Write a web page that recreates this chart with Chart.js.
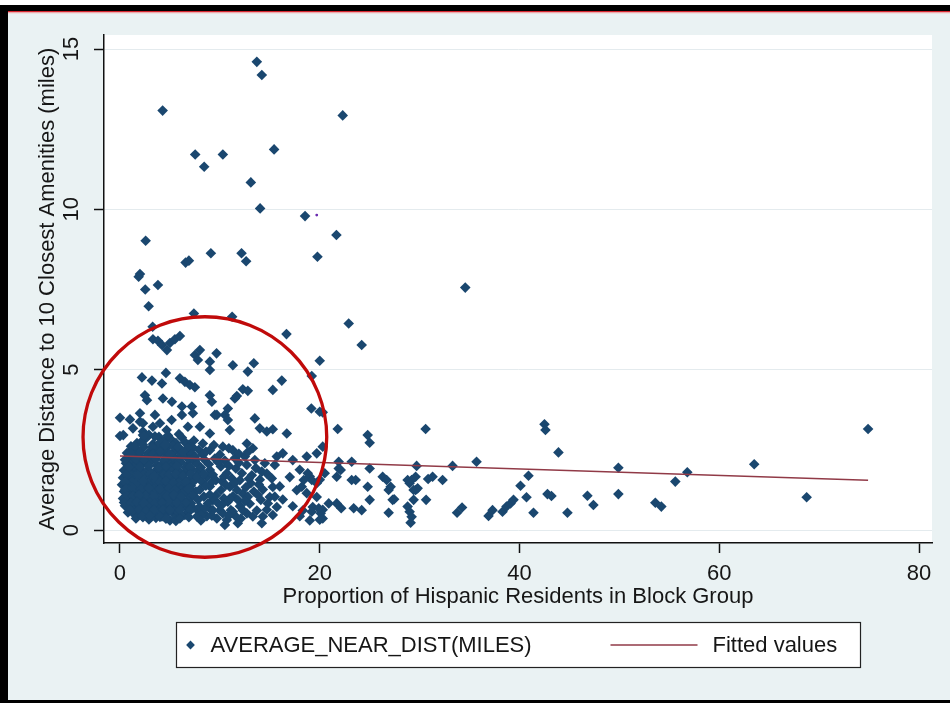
<!DOCTYPE html>
<html>
<head>
<meta charset="utf-8">
<script src="https://cdn.jsdelivr.net/npm/chart.js@4.4.1/dist/chart.umd.min.js"></script>
<style>
  html, body { margin: 0; padding: 0; background: #ffffff; }
  #wrap { position: relative; width: 950px; height: 705px; }
</style>
</head>
<body>
<div id="wrap"><canvas id="c" width="950" height="705"></canvas></div>
<script>
// Axis ticks and titles
const xTickValues = [0, 20, 40, 60, 80];
const xTickLabels = ['0', '20', '40', '60', '80'];
const yTickValues = [0, 5, 10, 15];
const yTickLabels = ['0', '5', '10', '15'];
const xTitle = 'Proportion of Hispanic Residents in Block Group';
const yTitle = 'Average Distance to 10 Closest Amenities (miles)';
const scatterLabel = 'AVERAGE_NEAR_DIST(MILES)';
const fitLabel = 'Fitted values';

// Block groups: [hispanic share, average distance in miles]
const highDistance = [
  [13.7,14.6],[14.2,14.19],[4.27,13.08],[22.3,12.93],[7.53,11.71],[10.3,11.71],[8.43,11.33],
  [15.43,11.87],[13.1,10.84],[14.03,10.03],[18.53,9.79],[21.67,9.2],[2.57,9.02],[9.1,8.63],
  [12.17,8.63],[12.63,8.38],[6.57,8.34],[6.9,8.4],[19.77,8.52],[2.0,7.98],[1.87,7.9],[3.8,7.64],
  [2.53,7.5],[34.57,7.56],[2.87,6.98],[7.4,6.75],[11.23,6.65],[22.9,6.44],[3.27,6.34],[16.67,6.11],
  [24.2,5.77]
];

const midDistance = [
  [3.3,5.95],[3.8,5.9],[4.2,5.77],[4.7,5.61],[5.0,5.83],[5.5,5.95],[6.0,6.05],
  [8.0,5.61],[7.5,5.46],[7.8,5.3],[9.0,5.25],[9.67,5.51],[9.0,4.99],[11.3,5.14],[12.8,4.94],
  [13.4,5.2],[20.0,5.28],[19.2,4.8],[2.2,4.76],[3.2,4.66],[4.2,4.57],[4.6,4.9],[6.0,4.73],
  [6.5,4.62],[7.0,4.52],[7.5,4.45],[16.2,4.66],[15.3,4.37],[12.3,4.39],[12.8,4.34],
  [2.5,4.2],[2.7,4.05],[4.3,4.1],[5.2,4.0],[6.2,3.85],[7.2,3.85],[9.0,4.2],[9.2,4.0],[9.5,3.59],
  [11.5,4.1],[11.7,4.18],[10.8,3.79],[10.5,3.59],[0.0,3.5],[1.0,3.45],[0.0,2.93],[1.3,3.17],
  [2.3,3.07],[3.3,3.22],[2.0,3.38],[13.5,3.48],[14.0,3.17],[14.7,3.07],[15.3,3.14],[16.7,3.01],
  [20.0,3.69],[19.16,3.79],[20.3,3.67],[21.8,3.15],
  [2.0,3.64],[2.3,3.33],[3.5,3.59],[4.0,3.33],[4.67,3.12],[5.17,3.43],[6.2,3.59],[7.3,3.64],
  [6.8,3.22],[8.0,3.22],[9.0,3.01],[9.7,3.59],[10.8,3.43],[11.0,3.12],[0.33,2.96],[2.3,2.96]
];

const denseCore = [
  [2.1,2.74],[2.6,2.86],[3.3,2.68],[3.9,2.91],[4.4,2.77],[5.1,2.83],[5.6,2.71],[6.2,2.88],[6.9,2.66],[7.4,2.79],
  [1.2,2.52],[1.8,2.47],[2.4,2.58],[3.0,2.44],[3.6,2.55],[4.2,2.49],[4.8,2.61],[5.4,2.43],[6.0,2.53],[6.7,2.46],[7.3,2.57],[7.9,2.5],
  [0.9,2.28],[1.5,2.34],[2.1,2.25],[2.7,2.31],[3.4,2.22],[3.9,2.36],[4.6,2.27],[5.2,2.3],[5.8,2.24],[6.4,2.33],[7.0,2.29],[7.6,2.21],[8.3,2.35],
  [0.6,2.08],[1.3,2.12],[1.9,2.04],[2.5,2.1],[3.1,2.15],[3.7,2.02],[4.3,2.09],[4.9,2.13],[5.5,2.06],[6.1,2.11],[6.8,2.03],[7.5,2.14],
  [0.4,1.86],[1.0,1.82],[1.6,1.9],[2.2,1.84],[2.8,1.88],[3.4,1.8],[4.0,1.87],[4.7,1.83],[5.3,1.91],[5.9,1.85],[6.5,1.79],[7.2,1.89],[7.8,1.84],
  [0.3,1.63],[0.9,1.58],[1.5,1.66],[2.0,1.6],[2.6,1.64],[3.2,1.57],[3.8,1.65],[4.4,1.61],[5.0,1.59],[5.7,1.67],[6.3,1.62],[6.9,1.56],[7.4,1.64],
  [0.2,1.41],[0.8,1.37],[1.4,1.44],[1.9,1.39],[2.5,1.42],[3.1,1.36],[3.7,1.43],[4.2,1.38],[4.8,1.45],[5.4,1.4],[6.0,1.35],[6.6,1.42],[7.1,1.38],
  [0.4,1.2],[1.0,1.15],[1.6,1.22],[2.2,1.17],[2.8,1.19],[3.3,1.14],[3.9,1.21],[4.5,1.16],[5.1,1.23],[5.8,1.18],[6.4,1.13],
  [0.3,0.98],[0.9,0.94],[1.5,1.0],[2.1,0.95],[2.7,0.97],[3.2,0.92],[3.8,0.99],[4.4,0.96],[5.0,0.93],[5.6,1.01],[6.2,0.95],[6.8,0.91],
  [0.5,0.76],[1.2,0.72],[1.8,0.78],[2.4,0.73],[3.0,0.75],[3.6,0.7],[4.1,0.77],[4.7,0.74],[5.3,0.71],[5.9,0.76],[6.6,0.73],[7.3,0.69],
  [0.8,0.55],[1.4,0.5],[2.0,0.53],[2.7,0.48],[3.3,0.54],[3.9,0.51],[4.6,0.49],[5.2,0.56],[5.8,0.5],[6.5,0.47],
  [1.6,0.36],[2.9,0.33],[3.6,0.38],[5.0,0.3],[5.5,0.37],
  [1.1,2.61],[1.7,2.71],[2.9,2.97],[3.5,2.92],[4.8,2.95],[5.9,2.99],[6.5,2.74],[0.7,2.4],[1.4,1.98],
  [2.3,1.72],[3.0,1.5],[3.5,1.3],[4.1,1.05],[4.9,0.85],[5.6,0.63],[6.2,0.84],[6.9,1.06],[7.0,1.3],
  [7.4,1.52],[6.6,1.95],[5.5,2.2],[4.6,2.4],[3.7,2.63],[2.8,2.38],[1.9,2.15],[1.0,1.73],[0.5,1.25],
  [0.6,0.86],[1.3,0.62],[2.3,0.4],[3.2,0.43],[4.2,0.42],[4.9,0.61],[5.6,0.28],[6.2,0.45],[6.9,0.57],
  [7.1,0.83],[2.6,1.08],[3.0,0.85],[3.6,1.52],[4.4,1.73],[5.1,1.95],[5.8,1.48],[6.4,1.18],[1.8,1.28],
  [1.2,1.51],[0.8,2.01],[2.4,2.93],[4.0,2.72],[5.3,2.62],[6.1,2.38],[7.1,2.41],[7.7,2.07],[7.9,1.76],
  [7.6,1.2],[7.7,0.63],
  [1.5,2.63],[2.3,2.66],[3.2,2.59],[4.5,2.64],[5.8,2.6],[6.8,2.57],
  [1.1,2.39],[2.0,2.42],[3.3,2.37],[4.0,2.45],[5.0,2.38],[6.3,2.44],[7.2,2.36],
  [0.5,2.19],[1.6,2.2],[2.4,2.17],[3.6,2.21],[4.4,2.18],[5.9,2.16],[6.9,2.19],
  [0.9,1.96],[2.0,1.97],[2.9,2.0],[3.9,1.95],[4.6,1.98],[5.7,2.0],[7.0,1.97],
  [0.6,1.73],[1.8,1.71],[3.0,1.74],[3.4,1.69],[4.9,1.72],[5.6,1.75],[6.3,1.7],[7.1,1.74],
  [0.5,1.5],[1.7,1.49],[2.3,1.52],[4.0,1.5],[4.6,1.53],[5.3,1.48],[6.6,1.51],
  [0.6,1.28],[1.3,1.3],[2.1,1.27],[2.9,1.31],[4.0,1.28],[4.9,1.3],[5.5,1.26],[6.8,1.27],
  [0.7,1.07],[1.3,1.06],[1.9,1.09],[3.4,1.05],[4.7,1.07],[5.4,1.09],[6.1,1.04],[7.3,1.08],
  [0.4,0.86],[1.1,0.84],[1.7,0.87],[2.4,0.85],[3.5,0.83],[4.2,0.86],[5.7,0.85],[6.6,0.86],
  [1.0,0.63],[1.9,0.64],[2.6,0.61],[3.4,0.62],[4.3,0.64],[5.0,0.62],[6.0,0.63],[7.0,0.62],
  [2.2,0.44],[3.0,0.45],[4.0,0.41],[4.6,0.35],[6.0,0.36],[6.9,0.4]
];

const coreShoulder = [
  [8.3,2.7],[9.0,2.49],[10.3,2.6],[11.3,2.49],[12.7,2.7],[13.3,2.55],[16.3,2.39],[17.3,2.18],
  [15.7,2.29],[18.7,2.29],[19.7,2.39],[20.3,2.6],
  [8.1,1.95],[9.0,1.87],[10.1,1.98],[8.7,1.66],[9.6,1.55],[10.7,1.77],[11.6,1.92],[12.7,2.03],
  [13.6,1.93],[14.7,1.76],[14.0,1.57],[13.1,1.46],[12.0,1.55],[11.0,1.35],[10.1,1.24],[9.0,1.36],
  [8.0,1.26],[8.4,1.04],[9.3,0.93],[10.4,0.99],[11.3,1.05],[12.3,1.13],[13.4,1.2],[14.3,1.26],
  [15.3,1.34],[15.0,1.03],[14.1,0.94],[13.0,0.82],[12.0,0.74],[11.1,0.62],[10.0,0.61],[9.1,0.63],
  [8.0,0.72],[7.7,0.42],[8.7,0.43],[9.7,0.36],[10.7,0.31],[11.6,0.42],[12.7,0.52],[13.7,0.61],
  [14.7,0.63],[15.7,0.72],[16.3,0.95],[16.0,1.36],[17.0,1.65],[18.0,1.88],[19.0,1.67],[20.0,1.57],
  [17.7,1.24],[18.7,1.15],[19.7,1.03],[17.3,0.74],[18.3,0.61],[19.3,0.72],[20.3,0.63],[18.0,0.43],
  [19.0,0.3],[20.0,0.32],
  [7.5,2.29],[8.5,2.18],[9.5,2.23],[10.5,2.17],[11.5,2.24],[12.5,2.29],[13.5,2.18],[14.5,2.08],
  [15.5,2.03],[7.7,1.66],[8.2,1.51],[9.2,1.5],[10.2,1.52],[11.2,1.61],[12.2,1.77],[13.2,1.71],
  [14.2,1.82],[15.2,1.61],[7.8,0.94],[8.8,0.83],[9.8,0.84],[10.8,0.88],[11.8,0.94],[12.8,1.04],
  [13.8,1.09],[14.8,0.83],[15.5,1.04],[8.3,0.52],[9.3,0.62],[10.3,0.52],[11.3,0.57],[12.3,0.62],
  [13.3,0.42],[14.3,0.42],[15.3,0.47],[14.2,0.21],[10.5,0.16],[11.8,0.21],
  [8.6,2.45],[9.4,2.65],[10.0,2.35],[10.9,2.55],[11.9,2.38],[8.9,2.05],[9.8,2.12],[10.9,2.0],
  [11.9,2.1],[12.8,2.43],[8.4,1.75],[9.3,1.72],[10.4,1.66],[11.5,1.47],[12.6,1.33],[8.6,1.38],
  [9.6,1.08],[10.6,1.4],[11.7,1.25],[12.9,1.6],[8.5,0.68],[9.0,1.1],[10.2,0.78],[11.0,0.98],
  [12.5,0.9],[8.1,0.3],[9.2,0.45],[10.9,0.45],[12.1,0.36],[13.9,1.42]
];

const longTail = [
  [24.8,2.96],[25.0,2.72],[30.6,3.15],[42.5,3.3],[42.6,3.12],[43.9,2.42],[74.9,3.15],
  [21.9,2.13],[23.2,2.13],[21.9,1.92],[22.1,1.87],[25.0,1.92],[29.7,2.0],[33.3,2.0],[35.7,2.13],
  [49.9,1.94],[56.8,1.8],[63.5,2.05],[40.9,1.69],[40.1,1.38],[40.7,1.02],[42.8,1.12],[43.2,1.06],
  [46.8,1.07],[47.4,0.78],[49.9,1.12],[55.6,1.51],[53.6,0.85],[54.2,0.73],[68.75,1.02],[41.4,0.54],
  [44.8,0.54],[33.75,0.54],[34.25,0.7],[36.9,0.44],[37.3,0.62],[38.3,0.57],[38.7,0.73],[39.1,0.83],
  [39.4,0.94],[30.65,0.94],[29.6,1.25],[29.2,1.56],[29.6,1.66],[29.8,1.3],[29.4,0.94],[28.8,0.73],
  [29.0,0.57],[29.2,0.41],[29.1,0.23],[30.85,1.59],[31.3,1.66],[32.3,1.56],[26.9,0.54],[27.3,0.94],
  [26.9,1.25],[27.1,1.35],[26.3,1.66],[26.7,1.56],[24.8,1.35],[25.0,0.94],[23.6,1.56],[23.2,1.56],
  [24.2,0.62],[23.4,0.68],[22.15,0.68],[21.7,0.83],[20.9,0.83],[20.1,0.52],[19.9,0.68],[19.2,0.57],
  [20.3,0.36],[21.7,1.66],[20.5,1.77],[19.2,1.56],[18.8,1.77],[18.4,1.56],[18.2,1.35],[19.7,1.46],
  [28.8,1.56],[29.0,1.46],[29.4,1.25],[27.45,0.96]
];

// Stray single-pixel mark
const strayMark = [[19.7, 9.82]];

// Linear fit endpoints (min and max share)
const fitX = [0, 74.9];
const fitY = [2.31, 1.55];

// Hand-drawn highlight ring, in data units: centre and radii
const ringCenter = [8.5, 2.9];
const ringRadius = [12.2, 3.75];

const FONT = "'Liberation Sans', Arial, sans-serif";
const TEXT = '#161616';
const toXY = p => ({ x: p[0], y: p[1] });
const blockGroups = [].concat(highDistance, midDistance, denseCore, coreShoulder, longTail);

// Page frame, grey graph region and white plot region
const framePlugin = {
  id: 'frame',
  beforeDraw(chart) {
    const { ctx, chartArea: a } = chart;
    ctx.save();
    ctx.fillStyle = '#ffffff';
    ctx.fillRect(0, 0, 950, 705);
    ctx.fillStyle = '#eaf2f3';
    ctx.fillRect(8, 11, 942, 689);
    ctx.fillStyle = '#000000';
    ctx.fillRect(0, 5, 950, 6);
    ctx.fillRect(0, 5, 8, 698);
    ctx.fillRect(0, 700, 950, 3);
    ctx.fillStyle = '#d7262e';
    ctx.fillRect(8, 11, 942, 1.5);
    ctx.fillStyle = '#f4c9cb';
    ctx.fillRect(8, 12.5, 942, 1);
    ctx.fillStyle = '#ffffff';
    ctx.fillRect(a.left, a.top, a.right - a.left, a.bottom - a.top);
    ctx.restore();
  }
};

// Red highlight ellipse, positioned through the chart scales
const ringPlugin = {
  id: 'ring',
  afterDatasetsDraw(chart) {
    const { ctx, scales: { x, y } } = chart;
    const cx = x.getPixelForValue(ringCenter[0]);
    const cy = y.getPixelForValue(ringCenter[1]);
    const rx = Math.abs(x.getPixelForValue(ringCenter[0] + ringRadius[0]) - cx);
    const ry = Math.abs(y.getPixelForValue(ringCenter[1] + ringRadius[1]) - cy);
    ctx.save();
    ctx.beginPath();
    ctx.ellipse(cx, cy, rx, ry, 0, 0, Math.PI * 2);
    ctx.strokeStyle = '#c00a0a';
    ctx.lineWidth = 3.3;
    ctx.stroke();
    ctx.restore();
  }
};

// Boxed two-column legend below the x axis title
const legendPlugin = {
  id: 'boxLegend',
  afterDraw(chart) {
    const { ctx, chartArea: a } = chart;
    const ds = chart.data.datasets;
    const pts = ds[1], fit = ds[0];
    const mid = (a.left + a.right) / 2;
    const w = 684, h = 45;
    const left = Math.round(mid - w / 2) + 0.5;
    const top = Math.round(chart.scales.x.bottom + 7) + 0.5;
    const cy = top + h / 2;
    ctx.save();
    ctx.fillStyle = '#ffffff';
    ctx.fillRect(left, top, w, h);
    ctx.strokeStyle = '#222222';
    ctx.lineWidth = 1.2;
    ctx.strokeRect(left, top, w, h);
    ctx.fillStyle = pts.backgroundColor;
    Chart.helpers.drawPoint(ctx, { pointStyle: 'rectRot', radius: 4.4, borderWidth: 0 }, left + 14, cy);
    ctx.font = '22px ' + FONT;
    ctx.fillStyle = TEXT;
    ctx.textBaseline = 'middle';
    ctx.textAlign = 'left';
    ctx.fillText(pts.label, left + 34, cy + 1);
    ctx.beginPath();
    ctx.moveTo(left + 434, cy);
    ctx.lineTo(left + 521, cy);
    ctx.strokeStyle = fit.borderColor;
    ctx.lineWidth = fit.borderWidth;
    ctx.stroke();
    ctx.fillText(fit.label, left + 536, cy + 1);
    ctx.restore();
  }
};

new Chart(document.getElementById('c'), {
  type: 'scatter',
  data: {
    datasets: [
      {
        type: 'line',
        label: fitLabel,
        data: fitX.map((v, i) => ({ x: v, y: fitY[i] })),
        borderColor: '#913a47',
        borderWidth: 1.6,
        pointRadius: 0,
        fill: false,
        order: 0
      },
      {
        label: scatterLabel,
        data: blockGroups.map(toXY),
        pointStyle: 'rectRot',
        pointRadius: 5.3,
        backgroundColor: '#1a476f',
        borderWidth: 0,
        order: 1
      },
      {
        label: '',
        data: strayMark.map(toXY),
        pointRadius: 1.4,
        backgroundColor: '#6a2bb0',
        borderWidth: 0,
        order: 2
      }
    ]
  },
  options: {
    responsive: false,
    animation: false,
    events: [],
    layout: { padding: { left: 8, top: 35, right: 18, bottom: 90 } },
    plugins: { legend: { display: false }, tooltip: { enabled: false } },
    scales: {
      x: {
        type: 'linear',
        min: -1.6,
        max: 81.3,
        afterBuildTicks: s => { s.ticks = xTickValues.map(v => ({ value: v })); },
        afterFit: s => { s.height = 72; },
        grid: { drawOnChartArea: false, drawTicks: true, tickLength: 10, tickColor: '#111', tickWidth: 1.5 },
        border: { display: true, color: '#111', width: 1.5 },
        ticks: {
          autoSkip: false, maxRotation: 0, padding: 8, color: TEXT,
          font: { family: FONT, size: 22 },
          callback: v => xTickLabels[xTickValues.indexOf(v)]
        },
        title: { display: true, text: xTitle, color: TEXT, font: { family: FONT, size: 22 }, padding: { top: 0, bottom: 5 } }
      },
      y: {
        type: 'linear',
        min: -0.405,
        max: 15.437,
        afterBuildTicks: s => { s.ticks = yTickValues.map(v => ({ value: v })); },
        afterFit: s => { s.width = 96; },
        grid: { color: '#e4ebee', lineWidth: 1, drawTicks: true, tickLength: 10, tickColor: '#111', tickWidth: 1.5 },
        border: { display: true, color: '#111', width: 1.5 },
        ticks: {
          autoSkip: false, minRotation: 90, maxRotation: 90, crossAlign: 'center', padding: 10, color: TEXT,
          font: { family: FONT, size: 22 },
          callback: v => yTickLabels[yTickValues.indexOf(v)]
        },
        title: { display: true, text: yTitle, color: TEXT, font: { family: FONT, size: 22 }, padding: { top: 27, bottom: 0 } }
      }
    }
  },
  plugins: [framePlugin, ringPlugin, legendPlugin]
});
</script>
</body>
</html>
